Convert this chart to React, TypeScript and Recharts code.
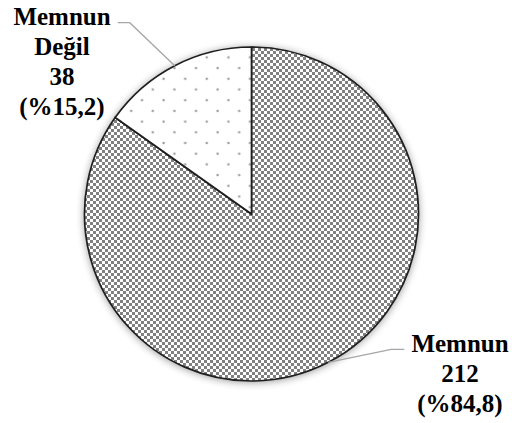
import React from 'react';
import { PieChart, Pie, Cell } from 'recharts';

// Survey answers
const categories = ['Memnun', 'Memnun Değil'];
const counts = [212, 38];
const labelLines = [['Memnun'], ['Memnun', 'Değil']];
const fills = ['url(#checker)', 'url(#dots)'];

const total = counts.reduce((a, b) => a + b, 0);
const data = categories.map((name, i) => ({ name, value: counts[i] }));

const RADIAN = Math.PI / 180;
const FONT = "'Liberation Serif', 'Times New Roman', serif";

const fmtPct = (v: number) => (v / total * 100).toFixed(1).replace('.', ',');

// Leader-line elbow offsets and text column per slice
const labelLayout = [
  { dx: 63, dy: -13, run: 13, textX: 460, firstBaseline: 352 },
  { dx: -45, dy: -43, run: -12, textX: 62, firstBaseline: 25 },
];

const renderLabel = (props: any) => {
  const { cx, cy, midAngle, outerRadius, index, value } = props;
  const ex = cx + outerRadius * Math.cos(-midAngle * RADIAN);
  const ey = cy + outerRadius * Math.sin(-midAngle * RADIAN);
  const lay = labelLayout[index];
  const bx = ex + lay.dx;
  const by = ey + lay.dy;
  const tx = bx + lay.run;
  const lines = [...labelLines[index], String(value), `(%${fmtPct(value)})`];
  return (
    <g key={`lbl-${index}`}>
      <polyline
        points={`${ex},${ey} ${bx},${by} ${tx},${by}`}
        fill="none"
        stroke="#a6a6a6"
        strokeWidth={1.3}
      />
      <text
        x={lay.textX}
        y={lay.firstBaseline}
        textAnchor="middle"
        style={{ fontFamily: FONT, fontWeight: 700, fontSize: 25 }}
        fill="#000"
      >
        {lines.map((ln, i) => (
          <tspan key={i} x={lay.textX} y={lay.firstBaseline + i * 30}>
            {ln}
          </tspan>
        ))}
      </text>
    </g>
  );
};

export default function App() {
  return (
    <div style={{ position: 'absolute', left: 0, top: 0, width: 512, height: 423, background: '#fff' }}>
      <PieChart width={512} height={423} margin={{ top: 0, right: 0, bottom: 0, left: 0 }}>
        <defs>
          <pattern id="checker" width={6} height={6} patternUnits="userSpaceOnUse">
            <rect x={0} y={0} width={6} height={6} fill="#ffffff" />
            <rect x={0} y={0} width={3} height={3} fill="#808080" />
            <rect x={3} y={3} width={3} height={3} fill="#808080" />
          </pattern>
          <pattern id="dots" width={21.6} height={21.4} patternUnits="userSpaceOnUse">
            <rect x={0} y={0} width={21.6} height={21.4} fill="#ffffff" />
            <circle cx={1.6} cy={3.8} r={1.2} fill="#9a9a9a" />
            <circle cx={12.4} cy={14.5} r={1.2} fill="#9a9a9a" />
          </pattern>
          <filter id="glow" x="-20%" y="-20%" width="140%" height="140%">
            <feGaussianBlur in="SourceAlpha" stdDeviation={4} />
            <feOffset dx={0} dy={1} result="b" />
            <feComponentTransfer>
              <feFuncA type="linear" slope={0.45} />
            </feComponentTransfer>
          </filter>
        </defs>
        {/* soft halo behind the pie */}
        <Pie
          data={[{ name: 'halo', value: 1 }]}
          dataKey="value"
          cx={251.5}
          cy={214}
          outerRadius={167}
          startAngle={90}
          endAngle={-270}
          isAnimationActive={false}
          stroke="none"
          label={false}
          labelLine={false}
        >
          <Cell fill="#000" filter="url(#glow)" />
        </Pie>
        <Pie
          data={data}
          dataKey="value"
          nameKey="name"
          cx={251.5}
          cy={214}
          outerRadius={167}
          startAngle={90}
          endAngle={-270}
          isAnimationActive={false}
          stroke="#1f1f1f"
          strokeWidth={1.7}
          labelLine={false}
          label={renderLabel}
        >
          {data.map((d, i) => (
            <Cell key={d.name} fill={fills[i]} />
          ))}
        </Pie>
      </PieChart>
    </div>
  );
}
